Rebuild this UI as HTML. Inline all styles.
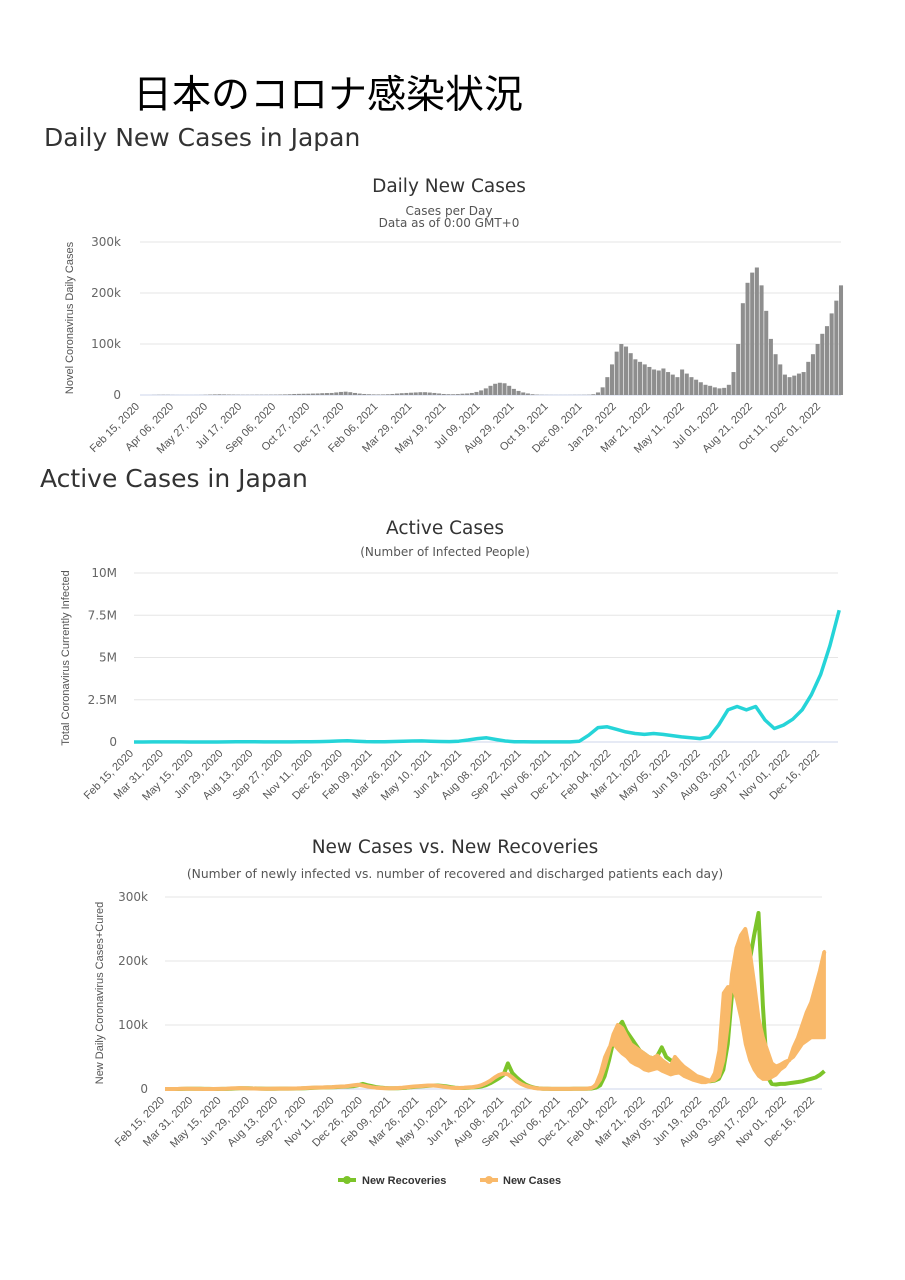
<!DOCTYPE html>
<html><head><meta charset="utf-8"><style>
html,body{margin:0;padding:0;background:#fff;}
svg{display:block;font-family:"Liberation Sans","Noto Sans CJK JP",sans-serif;}
.dv{font-family:"DejaVu Sans","Liberation Sans",sans-serif;}
</style></head><body>
<svg id="page" width="905" height="1280" viewBox="0 0 905 1280">
<text x="133" y="108" font-size="39" fill="#000">日本のコロナ感染状況</text>
<text class="dv" x="44" y="146" font-size="25" fill="#333">Daily New Cases in Japan</text>
<text class="dv" x="449" y="192" font-size="18.5" fill="#333" text-anchor="middle">Daily New Cases</text>
<text class="dv" x="449" y="215" font-size="12" fill="#555" text-anchor="middle">Cases per Day</text>
<text class="dv" x="449" y="227" font-size="12" fill="#555" text-anchor="middle">Data as of 0:00 GMT+0</text>
<text transform="translate(73,318) rotate(-90)" font-size="11" fill="#555" text-anchor="middle">Novel Coronavirus Daily Cases</text>
<g id="c1"></g>

<text class="dv" x="40" y="487" font-size="25" fill="#333">Active Cases in Japan</text>
<text class="dv" x="445" y="534" font-size="18.5" fill="#333" text-anchor="middle">Active Cases</text>
<text class="dv" x="445" y="556" font-size="12" fill="#555" text-anchor="middle">(Number of Infected People)</text>
<text transform="translate(69,658) rotate(-90)" font-size="11" fill="#555" text-anchor="middle">Total Coronavirus Currently Infected</text>
<g id="c2"></g>

<text class="dv" x="455" y="853" font-size="18.5" fill="#333" text-anchor="middle">New Cases vs. New Recoveries</text>
<text class="dv" x="455" y="878" font-size="12.3" fill="#555" text-anchor="middle">(Number of newly infected vs. number of recovered and discharged patients each day)</text>
<text transform="translate(103,993) rotate(-90)" font-size="11" fill="#555" text-anchor="middle">New Daily Coronavirus Cases+Cured</text>
<g id="c3"></g>

<g>
<g>
<line x1="338" y1="1180" x2="356" y2="1180" stroke="#7cc42a" stroke-width="4"/><circle cx="347" cy="1180" r="4" fill="#7cc42a"/>
<text x="362" y="1184" font-size="11" font-weight="bold" fill="#333">New Recoveries</text></g>
<g>
<line x1="480" y1="1180" x2="498" y2="1180" stroke="#f9b96a" stroke-width="4"/><circle cx="489" cy="1180" r="4" fill="#f9b96a"/>
<text x="503" y="1184" font-size="11" font-weight="bold" fill="#333">New Cases</text></g>
</g>
</svg>
<script>
// weekly daily-new-cases (thousands), week 0 = Feb 15 2020
const cases = [0,0,0,0.2,0.4,0.5,0.4,0.2,0.1,0.05,0.05,0.05,0.1,0.2,0.5,0.9,1.2,1.4,1.2,1.0,
0.8,0.6,0.5,0.5,0.5,0.6,0.6,0.6,0.7,0.8,1,1.2,1.5,2,2.2,2.4,2.5,2.8,3,3.5,
3.8,4,5,6,6.5,5.5,4,2.8,2,1.5,1.2,1.1,1.2,1.5,2,2.8,3.5,4,4.5,5,
5.5,5.5,4.8,4,3,2,1.6,1.5,1.8,2.5,3,4,6,9,13,18,22,24,23,18,
12,8,5,3,1.5,0.8,0.4,0.3,0.2,0.15,0.15,0.15,0.2,0.3,0.3,0.4,0.6,1.5,5,15,
35,60,85,100,95,82,70,65,60,55,50,48,52,45,40,35,50,42,35,30,
25,20,18,15,13,14,20,45,100,180,220,240,250,215,165,110,80,60,40,35,
38,42,45,65,80,100,120,135,160,185,215];
// weekly lows of daily new cases from week 97 (thousands)
const casesLow = [1,8,25,50,65,70,62,55,50,42,38,35,30,28,30,32,28,25,22,24,25,20,17,14,12,10,10,12,25,60,150,160,160,140,110,70,45,30,20,15,15,18,22,30,35,45,50,60,70,75,80,80,80,80];
const casesLowStart = 97;
const recov = [0,0,0,0,0.1,0.3,0.5,0.5,0.3,0.2,0.1,0.05,0.05,0.1,0.2,0.4,0.8,1.1,1.3,1.2,
1,0.8,0.6,0.5,0.5,0.5,0.6,0.6,0.6,0.7,0.8,1,1.2,1.5,1.9,2.2,2.4,2.5,2.7,3,
3.4,3.8,4,4.5,6,8,6,4.5,3,2.2,1.6,1.3,1.2,1.2,1.5,2,2.8,3.5,4,4.5,
5,5.5,5.5,4.8,4,3,2,1.6,1.5,1.8,2.5,3,4,6,9,13,17,22,40,25,
18,12,7,4,2,1,0.5,0.3,0.2,0.15,0.15,0.15,0.2,0.3,0.3,0.4,0.5,0.8,2,6,
20,45,75,95,105,90,80,70,60,55,50,48,52,65,50,45,42,38,32,28,
22,18,15,13,12,13,16,30,70,150,180,200,210,200,240,275,130,20,8,7,
8,8,9,10,11,12,14,16,18,22,28];
// active cases (millions) every 14 days from Feb 15 2020
const active = [0,0.001,0.003,0.005,0.008,0.005,0.002,0.001,0.001,0.002,0.005,0.01,0.012,0.01,0.008,0.007,0.007,0.008,0.012,0.018,
0.025,0.035,0.06,0.07,0.05,0.025,0.015,0.018,0.03,0.045,0.06,0.065,0.05,0.03,0.025,0.05,0.12,0.2,0.25,0.15,
0.06,0.02,0.01,0.008,0.006,0.005,0.005,0.006,0.05,0.4,0.85,0.9,0.75,0.6,0.5,0.45,0.5,0.45,0.38,0.3,
0.25,0.2,0.3,1.0,1.9,2.1,1.9,2.1,1.3,0.8,1.0,1.35,1.9,2.8,4.0,5.7,7.8];
const labels1 = ["Feb 15, 2020","Apr 06, 2020","May 27, 2020","Jul 17, 2020","Sep 06, 2020","Oct 27, 2020","Dec 17, 2020","Feb 06, 2021","Mar 29, 2021","May 19, 2021","Jul 09, 2021","Aug 29, 2021","Oct 19, 2021","Dec 09, 2021","Jan 29, 2022","Mar 21, 2022","May 11, 2022","Jul 01, 2022","Aug 21, 2022","Oct 11, 2022","Dec 01, 2022"];
const labels2 = ["Feb 15, 2020","Mar 31, 2020","May 15, 2020","Jun 29, 2020","Aug 13, 2020","Sep 27, 2020","Nov 11, 2020","Dec 26, 2020","Feb 09, 2021","Mar 26, 2021","May 10, 2021","Jun 24, 2021","Aug 08, 2021","Sep 22, 2021","Nov 06, 2021","Dec 21, 2021","Feb 04, 2022","Mar 21, 2022","May 05, 2022","Jun 19, 2022","Aug 03, 2022","Sep 17, 2022","Nov 01, 2022","Dec 16, 2022"];
const yTicks1 = [0,100,200,300], yLab1 = ["0","100k","200k","300k"];
const yTicks2 = [0,2.5,5,7.5,10], yLab2 = ["0","2.5M","5M","7.5M","10M"];

const NS="http://www.w3.org/2000/svg";
function mk(p,tag,a){const e=document.createElementNS(NS,tag);for(const k in a)e.setAttribute(k,a[k]);p.appendChild(e);return e;}
function xlabels(g,labs,step,xs,y0){labs.forEach((l,i)=>{const x=xs(i*step);
 const t=mk(g,'text',{x:x,y:y0+12,'font-size':11,fill:'#555','text-anchor':'end',transform:`rotate(-45 ${x} ${y0+12})`});
 
 
 t.textContent=l;});}
function ygrid(g,ticks,labs,ys,x0,x1,lx){ticks.forEach((v,i)=>{const y=ys(v);
 const ln=mk(g,'line',{x1:x0,x2:x1,y1:y,y2:y,stroke:i==0?'#ccd6eb':'#e6e6e6','stroke-width':1});
 
 
 const t=mk(g,'text',{x:lx,y:y+4,'font-size':12,fill:'#666','text-anchor':'end','class':'dv'});
 
 
 t.textContent=labs[i];});}

// chart 1
(function(){const g=document.getElementById('c1');
 const x0=140,x1=841,y0=395,y1=242;
 const xs=d=>x0+d*(x1-x0)/(150*7), ys=v=>y0-(v/300)*(y0-y1);
 ygrid(g,yTicks1,yLab1,ys,x0,x1,121);
 const bw=(x1-x0)/cases.length;
 cases.forEach((v,i)=>{const r=mk(g,'rect',{x:xs(i*7)-bw/2+0.3,y:ys(v),width:Math.max(bw-0.6,0.5),height:y0-ys(v),fill:'#8e8e8e'});
  
  });
 xlabels(g,labels1,51,xs,y0);})();

// chart 2
(function(){const g=document.getElementById('c2');
 const x0=134,x1=838,y0=742,y1=573;
 const xs=d=>x0+d*(820-x0)/1035, ys=v=>y0-(v/10)*(y0-y1);
 ygrid(g,yTicks2,yLab2,ys,x0,x1,117);
 const pts=active.map((v,i)=>xs(i*14).toFixed(1)+','+ys(v).toFixed(1)).join(' ');
 const pl=mk(g,'polyline',{points:pts,fill:'none',stroke:'#25d4d8','stroke-width':3.5,'stroke-linejoin':'round'});
 
 
 xlabels(g,labels2,45,xs,y0);})();

// chart 3
(function(){const g=document.getElementById('c3');
 const x0=165,x1=822,y0=1089,y1=897;
 const xs=d=>x0+d*(815-x0)/1035, ys=v=>y0-(v/300)*(y0-y1);
 ygrid(g,yTicks1,yLab1,ys,x0,x1,148);
 const line=(arr,col,name)=>{const pts=arr.map((v,i)=>xs(i*7).toFixed(1)+','+ys(v).toFixed(1)).join(' ');
  const pl=mk(g,'polyline',{points:pts,fill:'none',stroke:col,'stroke-width':4,'stroke-linejoin':'round'});
  
  };
 line(recov,'#7cc42a','new-recoveries-line');
 let top=[],bot=[];
 for(let i=casesLowStart;i<cases.length;i++){top.push(xs(i*7).toFixed(1)+','+ys(cases[i]).toFixed(1));
  bot.unshift(xs(i*7).toFixed(1)+','+ys(casesLow[i-casesLowStart]).toFixed(1));}
 const band=mk(g,'polygon',{points:top.concat(bot).join(' '),fill:'#f9b96a',stroke:'#f9b96a','stroke-width':3,'stroke-linejoin':'round'});
 
 
 line(cases,'#f9b96a','new-cases-line');
 xlabels(g,labels2,45,xs,y0);})();
</script>
</body></html>
